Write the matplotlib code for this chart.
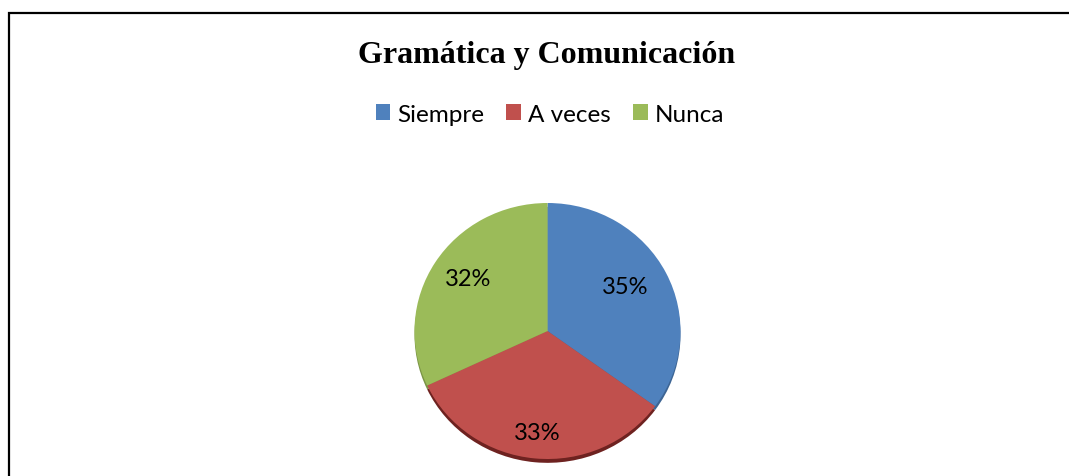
import numpy as np
import matplotlib.pyplot as plt
from matplotlib.patches import Rectangle

# chart data
labels = ['Siempre', 'A veces', 'Nunca']
values = [35, 33, 32]
colors = ['#4F81BD', '#C0504D', '#9BBB59']
shadow_colors = ['#3d6594', '#6e2220', '#7a9446']

W, H = 1069, 477
fig = plt.figure(figsize=(W / 100, H / 100), dpi=100)

# outer frame (only top and left edges fall inside the picture)
fig.patches.append(Rectangle((8.5 / W, -0.1), 1.2, (H - 13.5) / H + 0.1,
                             transform=fig.transFigure, fill=False,
                             edgecolor='black', linewidth=1.6))

ax = fig.add_axes([0, 0, 1, 1])

# soft shadow below the pie
ax.pie(values, colors=shadow_colors, startangle=90, counterclock=False,
       center=(0, -0.03), wedgeprops=dict(linewidth=0))

wedges, texts, autotexts = ax.pie(
    values, colors=colors, startangle=90, counterclock=False,
    autopct='%1.0f%%', wedgeprops=dict(linewidth=0),
    textprops=dict(fontsize=17, family='Lato', color='black'))

# label distance from centre for each wedge
label_r = [0.68, 0.80, 0.72]
label_shift = [4, 0, -2]  # degrees
for w, t, r, s in zip(wedges, autotexts, label_r, label_shift):
    a = np.deg2rad((w.theta1 + w.theta2) / 2 + s)
    t.set_position((r * np.cos(a), r * np.sin(a)))

# pie centre at (547.5, 332) px, radii 133 x 128 px
cx, cy, rx, ry = 547.5, 332, 133, 128
ax.set_aspect('auto')
ax.set_xlim(-cx / rx, (W - cx) / rx)
ax.set_ylim(-(H - cy) / ry, cy / ry)
ax.axis('off')

fig.text(547 / W, 1 - 56 / H, 'Gramática y Comunicación', ha='center',
         va='center', fontsize=23, fontweight='bold', family='Liberation Serif')

fig.legend(wedges, labels, loc='center', bbox_to_anchor=(550 / W, 1 - 115 / H),
           ncol=3, frameon=False, handlelength=0.6, handleheight=0.6,
           handletextpad=0.3, columnspacing=0.9,
           prop=dict(family='Lato', size=17.5))

plt.savefig('out.png', dpi=100)
